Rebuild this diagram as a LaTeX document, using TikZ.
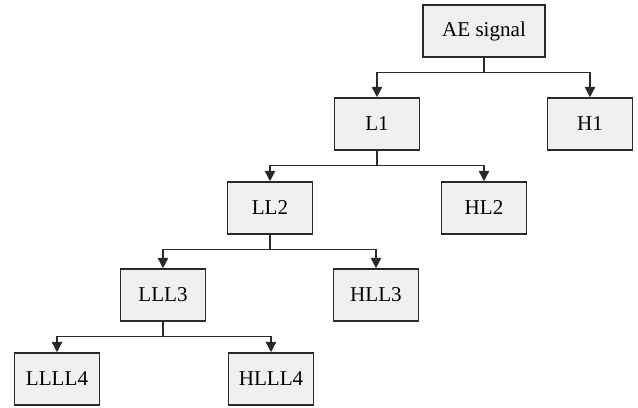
\documentclass[tikz,border=0pt]{standalone}
\usepackage{fontspec}
\setmainfont{Liberation Serif}
\usepackage{xcolor}
\definecolor{tree-line}{HTML}{2A2A2A}
\definecolor{tree-fill}{HTML}{F0F0F0}
\usepackage{tikz}
\usetikzlibrary{arrows.meta}

\begin{document}
\begin{tikzpicture}[
    coefbox/.style={draw=tree-line, fill=tree-fill, line width=1.1pt, minimum width=2.125cm, minimum height=1.3cm, font=\fontsize{15}{18}\selectfont},
    split/.style={draw=tree-line, line width=1pt, -{Triangle[width=0.26cm, length=0.26cm]}}
]

    % Frame
    \useasboundingbox (0, 0) rectangle (15.95, 10.175);

    % Level 0
    \node[coefbox, minimum width=3.05cm] (ae) at (12.1, 9.4) {AE signal};

    % Level 1
    \node[coefbox] (l1) at (9.425, 7.075) {L1};
    \node[coefbox] (h1) at (14.75, 7.075) {H1};

    % Level 2
    \node[coefbox] (ll2) at (6.75, 4.975) {LL2};
    \node[coefbox] (hl2) at (12.1, 4.975) {HL2};

    % Level 3
    \node[coefbox] (lll3) at (4.075, 2.8) {LLL3};
    \node[coefbox] (hll3) at (9.4, 2.8) {HLL3};

    % Level 4
    \node[coefbox] (llll4) at (1.425, 0.7) {LLLL4};
    \node[coefbox] (hlll4) at (6.775, 0.7) {HLLL4};

    % Branches
    \draw[split] (ae.south) -- ++(0, -0.375) -| (l1.north);
    \draw[split] (ae.south) -- ++(0, -0.375) -| (h1.north);
    \draw[split] (l1.south) -- ++(0, -0.375) -| (ll2.north);
    \draw[split] (l1.south) -- ++(0, -0.375) -| (hl2.north);
    \draw[split] (ll2.south) -- ++(0, -0.375) -| (lll3.north);
    \draw[split] (ll2.south) -- ++(0, -0.375) -| (hll3.north);
    \draw[split] (lll3.south) -- ++(0, -0.375) -| (llll4.north);
    \draw[split] (lll3.south) -- ++(0, -0.375) -| (hlll4.north);

\end{tikzpicture}
\end{document}
